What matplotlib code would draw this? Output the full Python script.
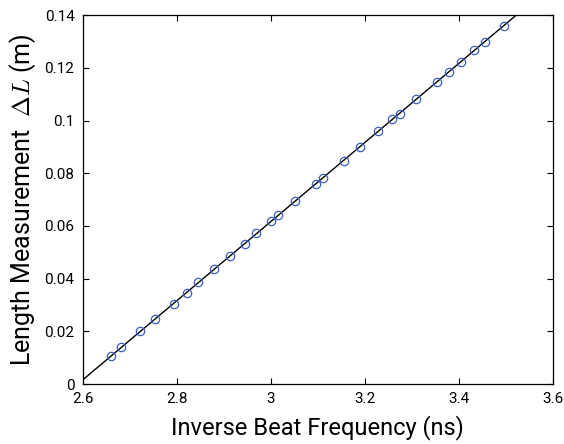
import numpy as np
import matplotlib
matplotlib.use("Agg")
import matplotlib.pyplot as plt

inv_beat_freq_ns = [2.660, 2.682, 2.722, 2.754, 2.794, 2.821, 2.846, 2.879, 2.914, 2.944,
                    2.968, 3.000, 3.016, 3.052, 3.096, 3.111, 3.155, 3.189, 3.228, 3.258,
                    3.274, 3.309, 3.353, 3.379, 3.404, 3.433, 3.455, 3.496]
length_m = [0.0106, 0.0140, 0.0200, 0.0247, 0.0305, 0.0346, 0.0387, 0.0436, 0.0487, 0.0532,
            0.0572, 0.0617, 0.0640, 0.0695, 0.0759, 0.0783, 0.0847, 0.0901, 0.0959, 0.1005,
            0.1026, 0.1081, 0.1145, 0.1185, 0.1223, 0.1266, 0.1298, 0.1360]
xticks = [2.6, 2.8, 3.0, 3.2, 3.4, 3.6]
xticklabels = ["2.6", "2.8", "3", "3.2", "3.4", "3.6"]
yticks = [0, 0.02, 0.04, 0.06, 0.08, 0.1, 0.12, 0.14]
yticklabels = ["0", "0.02", "0.04", "0.06", "0.08", "0.1", "0.12", "0.14"]

plt.rcParams['font.family'] = ['Roboto', 'DejaVu Sans']
plt.rcParams['mathtext.fontset'] = 'cm'
fig = plt.figure(figsize=(5.64, 4.44), dpi=100)
ax = fig.add_axes([0.147, 0.135, 0.833, 0.831])

x = np.array(inv_beat_freq_ns)
y = np.array(length_m)
p = np.polyfit(x, y, 1)
xl = np.array([2.6, 3.6])
ax.plot(xl, np.polyval(p, xl), color='black', lw=1.0, zorder=2)
ax.plot(x, y, 'o', mfc='none', mec='#3a5fc0', ms=6, mew=0.9, zorder=3)

ax.set_xlim(2.6, 3.6)
ax.set_ylim(0, 0.14)
ax.set_xticks(xticks)
ax.set_xticklabels(xticklabels)
ax.set_yticks(yticks)
ax.set_yticklabels(yticklabels)
ax.tick_params(direction='in', top=True, right=True, labelsize=11, length=4, width=0.8, pad=6)
for s in ax.spines.values():
    s.set_linewidth(0.9)
ax.set_xlabel("Inverse Beat Frequency (ns)", fontsize=17, labelpad=6)
ax.set_ylabel(r"Length Measurement  $\Delta L$ (m)", fontsize=18, labelpad=5)
fig.savefig("out.png", dpi=100)
